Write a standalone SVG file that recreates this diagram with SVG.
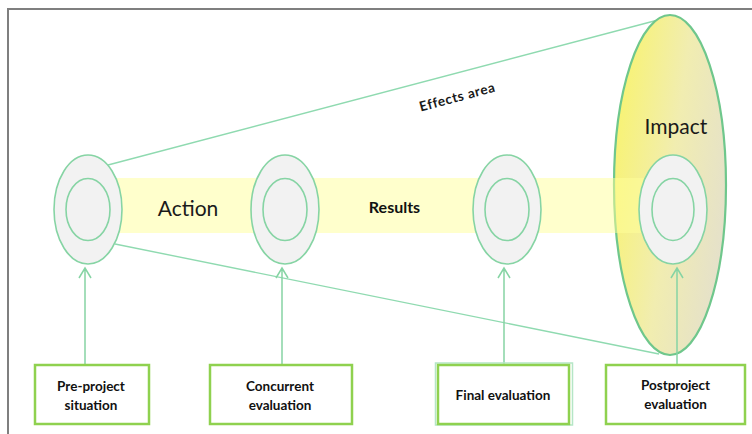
<svg xmlns="http://www.w3.org/2000/svg" width="752" height="434" viewBox="0 0 752 434">
<defs>
<linearGradient id="impactGrad" x1="0" y1="0.3" x2="1" y2="0.7">
<stop offset="0" stop-color="#f8f372"/>
<stop offset="0.5" stop-color="#f1edb0"/>
<stop offset="1" stop-color="#e4e0cc"/>
</linearGradient>
<style>
.frame{stroke:#7f7f7f;stroke-width:2;fill:none}
.cone{stroke:#8fdab0;stroke-width:1.4;fill:none}
.outer{fill:#f2f2f2;stroke:#86d4a4;stroke-width:1.6}
.inner{fill:#f2f2f2;stroke:#86d4a4;stroke-width:1.6}
.conn{stroke:#86d4a4;stroke-width:1.5;fill:none}
.box{fill:#ffffff;stroke:#8fd14f;stroke-width:2.5}
.boxtext{font-family:Lato,"Liberation Sans",sans-serif;font-weight:bold;font-size:13.5px;fill:#111;text-anchor:middle}
.big{font-family:Lato,"Liberation Sans",sans-serif;font-size:21px;fill:#1a1a1a}
</style>
</defs>

<!-- frame -->
<path class="frame" d="M8,434 V9 H752"/>

<!-- effects area cone lines -->
<g id="cone">
<line class="cone" x1="108" y1="165" x2="658" y2="20"/>
<line class="cone" x1="115" y1="244" x2="659" y2="354"/>
</g>

<!-- impact ellipse -->
<g id="impact">
<ellipse cx="670" cy="185" rx="56" ry="170" fill="url(#impactGrad)" stroke="#6fc78c" stroke-width="2.2"/>
<text class="big" x="676" y="134" text-anchor="middle">Impact</text>
</g>

<!-- action/results band -->
<g id="band">
<rect x="88" y="178" width="585" height="55" fill="#ffff99" fill-opacity="0.5"/>
<text class="big" x="188" y="216" text-anchor="middle">Action</text>
<text x="394.5" y="213" text-anchor="middle" font-family="Lato, 'Liberation Sans', sans-serif" font-weight="bold" font-size="16px" fill="#111">Results</text>
</g>

<text x="458.5" y="101.5" text-anchor="middle" transform="rotate(-15 458.5 101.5)" font-family="Lato, 'Liberation Sans', sans-serif" font-weight="bold" font-size="13.5px" letter-spacing="0.6" fill="#1a1a1a">Effects area</text>

<!-- stage nodes -->
<g id="node-pre">
<ellipse class="outer" cx="88" cy="209.5" rx="34" ry="54.5"/>
<ellipse class="inner" cx="88" cy="209.5" rx="22" ry="31"/>
</g>
<g id="node-concurrent">
<ellipse class="outer" cx="285" cy="209.5" rx="34" ry="54.5"/>
<ellipse class="inner" cx="285" cy="209.5" rx="22" ry="31"/>
</g>
<g id="node-final">
<ellipse class="outer" cx="507" cy="209.5" rx="34" ry="54.5"/>
<ellipse class="inner" cx="507" cy="209.5" rx="22" ry="31"/>
</g>
<g id="node-post">
<ellipse class="outer" cx="673" cy="209.5" rx="34" ry="54.5"/>
<ellipse class="inner" cx="673" cy="209.5" rx="21" ry="31"/>
</g>

<!-- connectors -->
<g id="connectors">
<path class="conn" d="M85,364 V268 M79,278 L85,268 L91,278"/>
<path class="conn" d="M282,364 V268 M276,278 L282,268 L288,278"/>
<path class="conn" d="M504,364 V268 M498,278 L504,268 L510,278"/>
<path class="conn" d="M677,364 V268 M671,278 L677,268 L683,278"/>
</g>

<!-- evaluation boxes -->
<g id="box-pre">
<rect class="box" x="35" y="365" width="114" height="59"/>
<text class="boxtext" x="91" y="391">Pre-project</text>
<text class="boxtext" x="91" y="410">situation</text>
</g>
<g id="box-concurrent">
<rect class="box" x="210" y="365" width="142" height="59"/>
<text class="boxtext" x="280" y="391">Concurrent</text>
<text class="boxtext" x="280" y="410">evaluation</text>
</g>
<g id="box-final">
<rect x="435.5" y="363" width="137" height="62" fill="none" stroke="#b5e6c6" stroke-width="1.5"/>
<rect class="box" x="438" y="365" width="131" height="59"/>
<text class="boxtext" x="503" y="399.5">Final evaluation</text>
</g>
<g id="box-post">
<rect class="box" x="606" y="365" width="139" height="59"/>
<text class="boxtext" x="675.5" y="390">Postproject</text>
<text class="boxtext" x="675.5" y="409">evaluation</text>
</g>
</svg>
